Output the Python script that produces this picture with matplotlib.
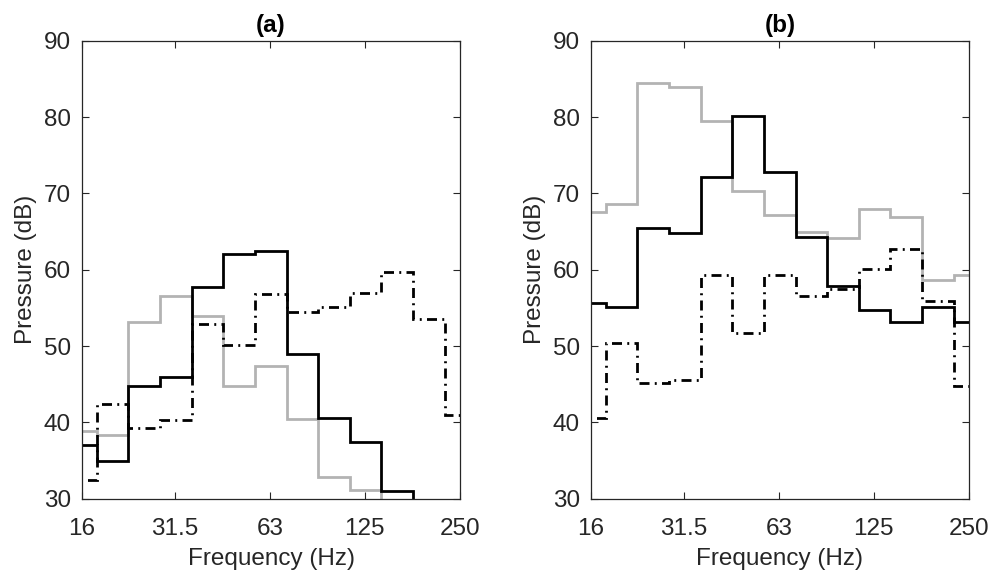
import numpy as np
import matplotlib
matplotlib.use("Agg")
import matplotlib.pyplot as plt

plt.rcParams['font.family'] = ['Liberation Sans', 'DejaVu Sans']

# Third-octave band centres (nominal), 16 Hz .. 250 Hz
band_labels = ["16", "20", "25", "31.5", "40", "50", "63", "80",
               "100", "125", "160", "200", "250"]

# Panel (a) band levels, dB
a_solid = [37.0, 35.0, 44.7, 45.9, 57.7, 62.1, 62.4, 48.9, 40.6, 37.4, 31.0, 27.0, 25.0]
a_grey = [38.9, 38.3, 53.1, 56.5, 53.9, 44.7, 47.4, 40.5, 32.9, 31.2, 28.0, 26.0, 25.0]
a_dashdot = [32.4, 42.4, 39.3, 40.3, 52.9, 50.2, 56.8, 54.5, 55.1, 57.0, 59.7, 53.5, 41.0]

# Panel (b) band levels, dB
b_solid = [55.7, 55.1, 65.5, 64.8, 72.2, 80.2, 72.8, 64.3, 57.8, 54.7, 53.1, 55.1, 53.2]
b_grey = [67.5, 68.6, 84.4, 84.0, 79.5, 70.3, 67.2, 64.9, 64.1, 67.9, 66.9, 58.6, 59.3]
b_dashdot = [40.6, 50.4, 45.2, 45.5, 59.3, 51.7, 59.3, 56.6, 57.5, 60.1, 62.7, 55.9, 44.7]

tick_freqs = [16, 31.5, 63, 125, 250]
tick_labels = ["16", "31.5", "63", "125", "250"]
y_ticks = [30, 40, 50, 60, 70, 80, 90]

# Band edges from exact preferred centres 10^(n/10), n = 12..24
n = np.arange(12, 12 + len(band_labels))
edges = 10 ** ((np.append(n, n[-1] + 1) - 0.5) / 10)

fig = plt.figure(figsize=(9.92, 5.74), dpi=100)
ax_a = fig.add_axes([82 / 992, 1 - 498.7 / 574, 378 / 992, 458 / 574])
ax_b = fig.add_axes([591 / 992, 1 - 498.7 / 574, 378 / 992, 458 / 574])

grey = (0.70, 0.70, 0.70)
dashdot = (0, (3.6, 1.9, 0.7, 1.9))
lw = 2.0
fs = 17.5
txt = "#262626"

for ax, title, solid, light, dd in [
    (ax_a, "(a)", a_solid, a_grey, a_dashdot),
    (ax_b, "(b)", b_solid, b_grey, b_dashdot),
]:
    ax.stairs(light, edges, color=grey, linewidth=lw, baseline=None)
    ax.stairs(dd, edges, color="black", linewidth=lw, linestyle=dashdot, baseline=None)
    ax.stairs(solid, edges, color="black", linewidth=lw, baseline=None)

    ax.set_xscale("log")
    ax.set_xlim(16, 250)
    ax.set_ylim(30, 90)
    ax.set_xticks(tick_freqs)
    ax.set_xticklabels(tick_labels)
    ax.minorticks_off()
    ax.set_yticks(y_ticks)
    ax.tick_params(direction="in", top=True, right=True, length=5,
                   width=0.8, labelsize=fs, colors=txt)
    ax.tick_params(axis="x", pad=14)
    ax.tick_params(axis="y", pad=8)
    for s in ax.spines.values():
        s.set_linewidth(0.9)
        s.set_color(txt)
    ax.set_xlabel("Frequency (Hz)", fontsize=fs, color=txt, labelpad=6)
    ax.set_ylabel("Pressure (dB)", fontsize=fs, color=txt, labelpad=5)
    ax.set_title(title, fontsize=fs, fontweight="bold", pad=6)

fig.savefig("out.png", dpi=100)
